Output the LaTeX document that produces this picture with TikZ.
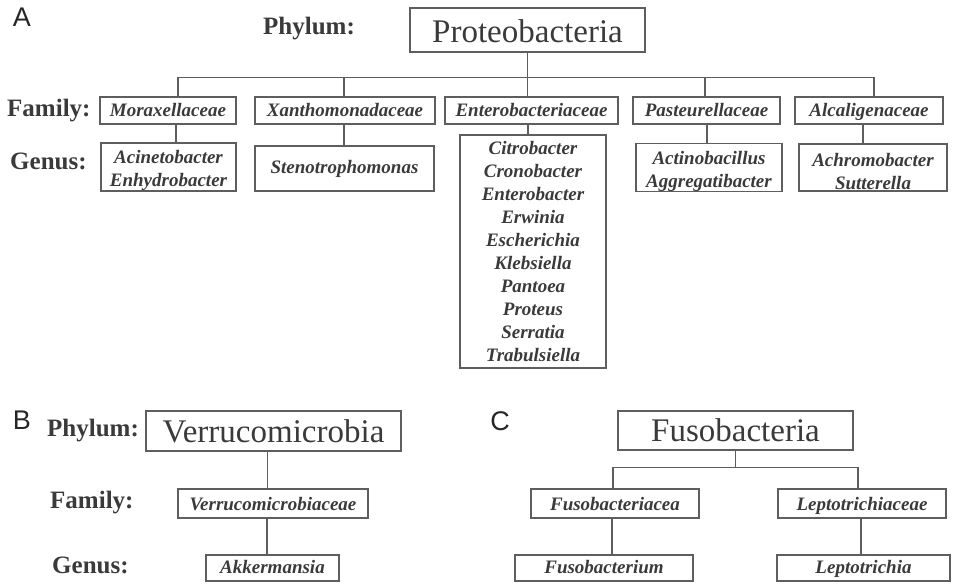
\documentclass[tikz,border=0pt]{standalone}
\usepackage{fontspec}
\setmainfont{Liberation Serif}
\newfontfamily\panelfont{Liberation Sans}
\definecolor{txt}{HTML}{3A3A3A}
\definecolor{ln}{HTML}{5E5E5E}
\newcommand{\firstgap}{\rule{0pt}{21pt}}
\begin{document}
\begin{tikzpicture}[x=1pt,y=-1pt,
  box/.style={draw=ln,line width=1.3pt,inner sep=0pt,align=center,text=txt},
  big/.style={box,text height=22pt,text depth=0pt,font=\fontsize{33}{38}\selectfont},
  fam/.style={box,minimum height=27pt,text height=15pt,text depth=2pt,font=\fontsize{19}{23}\selectfont\bfseries\itshape},
  gen/.style={box,font=\fontsize{19}{23}\selectfont\bfseries\itshape},
  gone/.style={gen,text height=14pt,text depth=4pt},
  rank/.style={anchor=base west,inner sep=0pt,text=txt,font=\fontsize{25}{29}\selectfont\bfseries},
  panel/.style={inner sep=0pt,text=black!85,font=\panelfont\fontsize{27}{30}\selectfont},
  conn/.style={draw=ln,line width=1.3pt}]
\useasboundingbox (0,0) rectangle (957,588);

% ---------- Panel A ----------
\node[panel] (lA) at (22,17) {A};
\node[rank] (phyA) at (263,35) {Phylum:};
\node[rank] (famA) at (7,117) {Family:};
\node[rank] (genA) at (10,169) {Genus:};

\node[big,minimum width=235pt,minimum height=44pt,text height=26pt] (prot) at (527.5,30) {Proteobacteria};

\node[fam,minimum width=136pt] (mor) at (168,110.5) {Moraxellaceae};
\node[fam,minimum width=180pt] (xan) at (345,110.5) {Xanthomonadaceae};
\node[fam,minimum width=173pt] (ent) at (531.5,110.5) {Enterobacteriaceae};
\node[fam,minimum width=147pt] (pas) at (706.5,110.5) {Pasteurellaceae};
\node[fam,minimum width=148pt] (alc) at (869,110.5) {Alcaligenaceae};

\node[gen,minimum width=135pt,minimum height=46pt] (aci) at (168.5,167) {\firstgap Acinetobacter\\Enhydrobacter};
\node[gone,minimum width=179pt,minimum height=45pt,text height=15pt] (ste) at (344.5,168.5) {Stenotrophomonas};
\node[gen,minimum width=146pt,minimum height=233pt] (entg) at (533,251.5) {Citrobacter\\Cronobacter\\Enterobacter\\Erwinia\\Escherichia\\Klebsiella\\Pantoea\\Proteus\\Serratia\\Trabulsiella};
\node[gen,minimum width=146pt,minimum height=47pt] (act) at (709,167.5) {\firstgap Actinobacillus\\Aggregatibacter};
\node[gen,minimum width=148pt,minimum height=47pt] (achr) at (873,167.5) {\firstgap Achromobacter\\Sutterella};

\draw[conn] (prot.south) -- ++(0,25) -| ([xshift=10pt]mor.north);
\draw[conn] (prot.south) -- ++(0,25) -| ([xshift=-1pt]xan.north);
\draw[conn] (prot.south) -- (prot.south |- ent.north);
\draw[conn] (prot.south) -- ++(0,25) -| ([xshift=-1.5pt]pas.north);
\draw[conn] (prot.south) -- ++(0,25) -| ([xshift=5pt]alc.north);

\draw[conn] ([xshift=8pt]mor.south) -- ([xshift=8pt]mor.south |- aci.north);
\draw[conn] ([xshift=-1pt]xan.south) -- ([xshift=-1pt]xan.south |- ste.north);
\draw[conn] ([xshift=-3.5pt]ent.south) -- ([xshift=-3.5pt]ent.south |- entg.north);
\draw[conn] ([xshift=0.5pt]pas.south) -- ([xshift=0.5pt]pas.south |- act.north);
\draw[conn] ([xshift=-6pt]alc.south) -- ([xshift=-6pt]alc.south |- achr.north);

% ---------- Panel B ----------
\node[panel] (lB) at (22,420) {B};
\node[rank] (phyB) at (47,436) {Phylum:};
\node[rank] (famB) at (50,508) {Family:};
\node[rank] (genB) at (52,573) {Genus:};

\node[big,minimum width=255pt,minimum height=40pt] (ver) at (273.5,431) {Verrucomicrobia};
\node[fam,minimum width=190pt,minimum height=29pt] (verf) at (273,503.5) {Verrucomicrobiaceae};
\node[gone,minimum width=133pt,minimum height=26pt] (akk) at (272.5,568) {Akkermansia};

\draw[conn] ([xshift=-6pt]ver.south) -- ([xshift=-6pt]ver.south |- verf.north);
\draw[conn] ([xshift=-6pt]verf.south) -- ([xshift=-6pt]verf.south |- akk.north);

% ---------- Panel C ----------
\node[panel] (lC) at (500,421) {C};
\node[big,minimum width=235pt,minimum height=39pt] (fus) at (735.5,430.5) {Fusobacteria};
\node[fam,minimum width=168pt,minimum height=29pt] (fusf) at (615,503.5) {Fusobacteriacea};
\node[fam,minimum width=168pt,minimum height=29pt] (lepf) at (862,503.5) {Leptotrichiaceae};
\node[gone,minimum width=178pt,minimum height=26pt] (fusg) at (604,568) {Fusobacterium};
\node[gone,minimum width=173pt,minimum height=26pt] (lepg) at (863.5,568) {Leptotrichia};

\draw[conn] (fus.south) -- ++(0,17) -| ([xshift=-2pt]fusf.north);
\draw[conn] (fus.south) -- ++(0,17) -| ([xshift=-4pt]lepf.north);
\draw[conn] ([xshift=-3pt]fusf.south) -- ([xshift=-3pt]fusf.south |- fusg.north);
\draw[conn] ([xshift=-1pt]lepf.south) -- ([xshift=-1pt]lepf.south |- lepg.north);
\end{tikzpicture}
\end{document}
